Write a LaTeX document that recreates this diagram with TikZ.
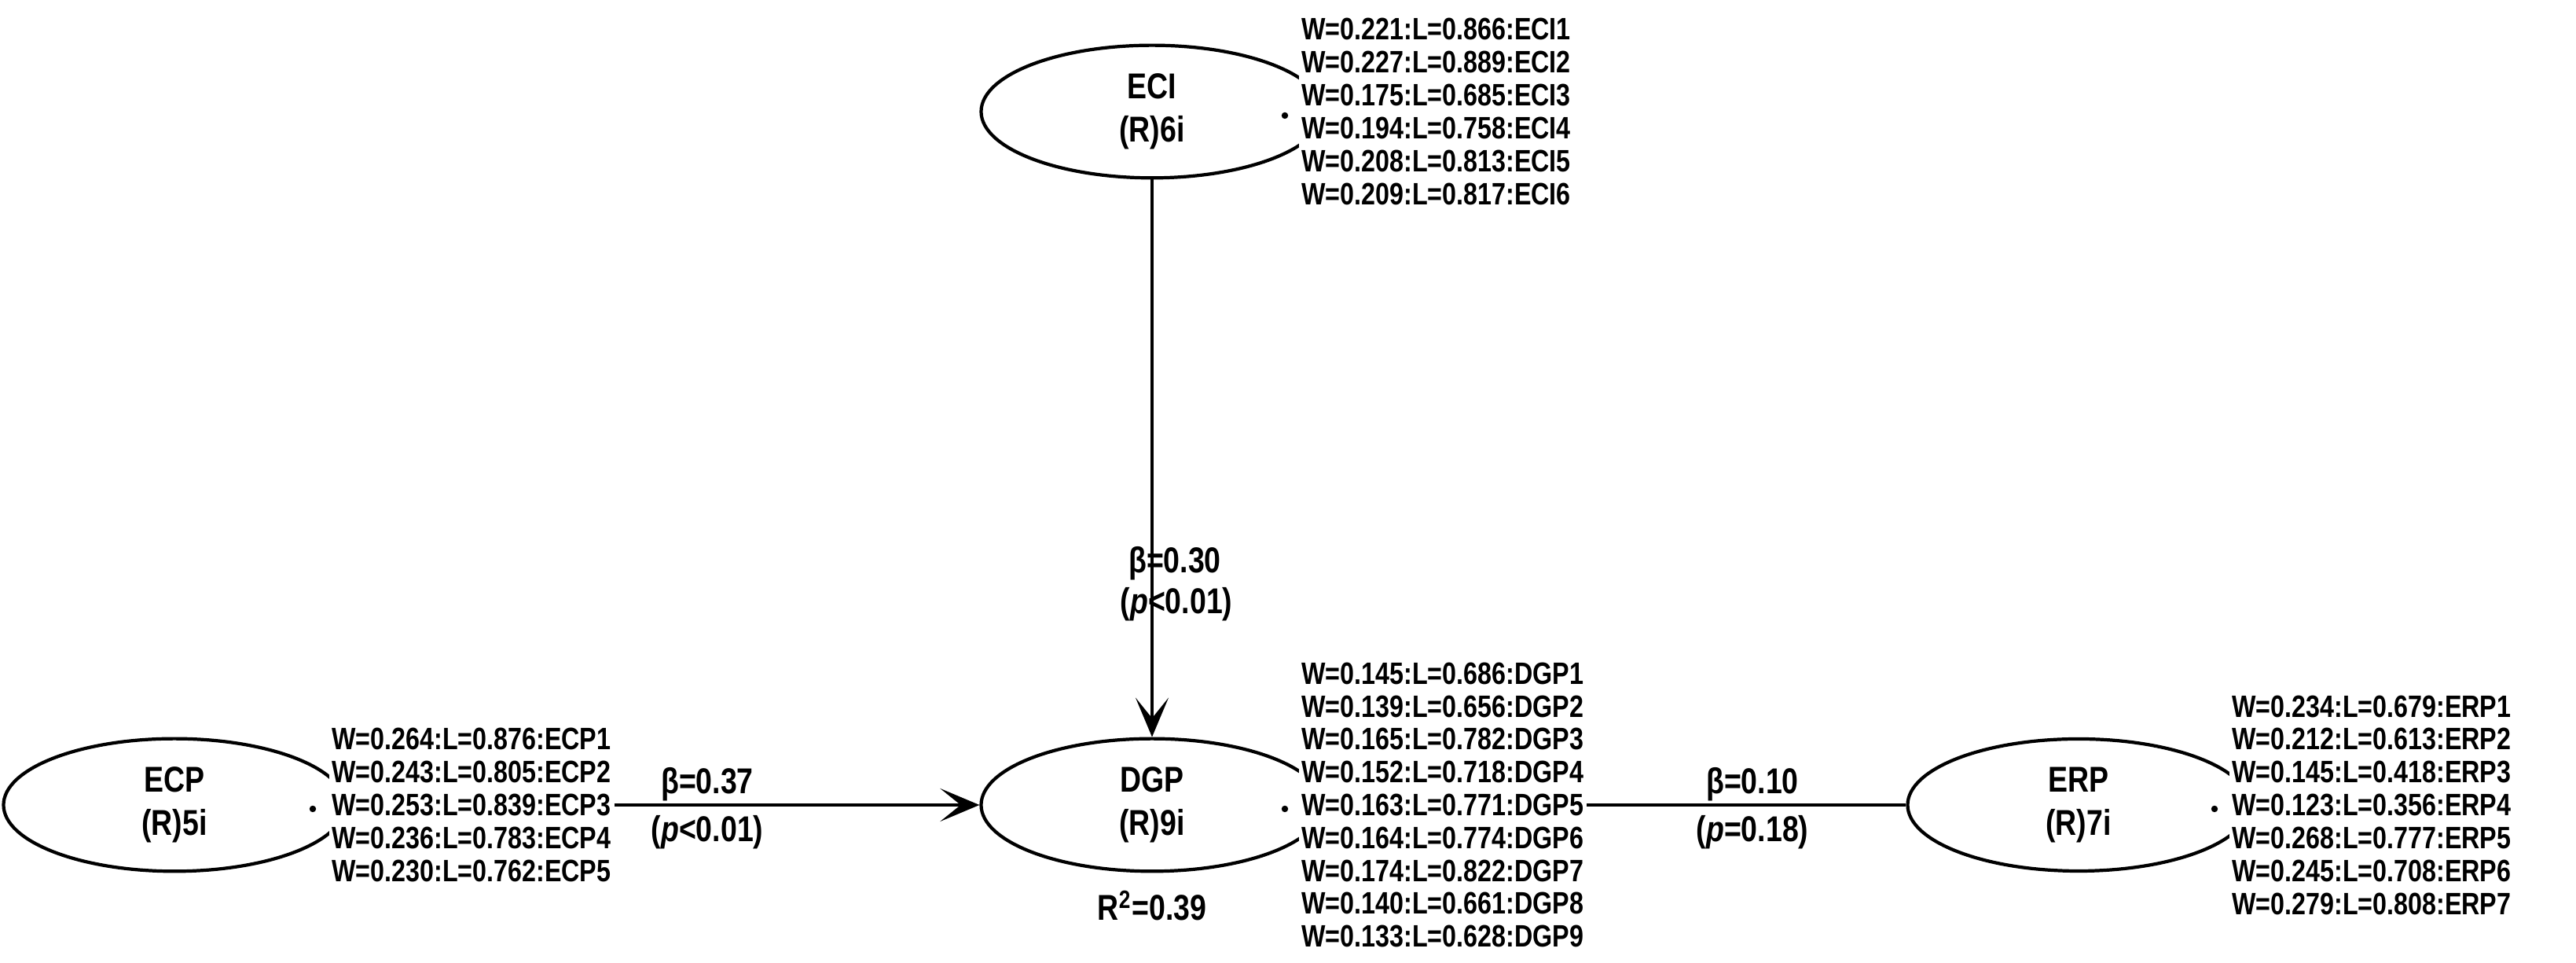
\documentclass[tikz,border=0pt]{standalone}
\usepackage{fontspec}
\setmainfont{Liberation Sans}[FakeStretch=0.82]
\usetikzlibrary{shapes.geometric}
\usetikzlibrary{positioning}
\usetikzlibrary{arrows.meta}

\begin{document}
\begin{tikzpicture}[
    latent/.style={ellipse, draw=black, line width=1.2pt, minimum width=4.35cm, minimum height=1.68cm,
        align=center, font=\bfseries\fontsize{13}{15.5}\selectfont},
    weights/.style={anchor=west, fill=white, inner sep=1pt, align=left,
        font=\bfseries\fontsize{11.2}{11.9}\selectfont},
    path/.style={line width=1.2pt},
    coef/.style={font=\bfseries\fontsize{13}{15}\selectfont, align=center},
    tip/.style={-{Stealth[length=5mm, width=4.2mm, inset=2.6mm]}}
]
    \useasboundingbox (0,0) rectangle (32.78,12.25);
    % Constructs
    \node at (14.66, 10.83) [latent](eci){ECI\\(R)6i};
    \node at (14.66, 2.01) [latent](dgp){DGP\\(R)9i};
    \node at (2.22, 2.01) [latent](ecp){ECP\\(R)5i};
    \node at (26.45, 2.01) [latent](erp){ERP\\(R)7i};
    % -- small dots inside the ellipses
    \fill (16.35, 10.78) circle (1.2pt);
    \fill (16.35, 1.96) circle (1.2pt);
    \fill (3.98, 1.96) circle (1.2pt);
    \fill (28.18, 1.96) circle (1.2pt);
    % Outer weights and loadings
    \node at (16.52, 10.83) [weights](eciInd){W=0.221:L=0.866:ECI1\\W=0.227:L=0.889:ECI2\\W=0.175:L=0.685:ECI3\\W=0.194:L=0.758:ECI4\\W=0.208:L=0.813:ECI5\\W=0.209:L=0.817:ECI6};
    \node at (16.52, 2.01) [weights](dgpInd){W=0.145:L=0.686:DGP1\\W=0.139:L=0.656:DGP2\\W=0.165:L=0.782:DGP3\\W=0.152:L=0.718:DGP4\\W=0.163:L=0.771:DGP5\\W=0.164:L=0.774:DGP6\\W=0.174:L=0.822:DGP7\\W=0.140:L=0.661:DGP8\\W=0.133:L=0.628:DGP9};
    \node at (4.18, 2.01) [weights](ecpInd){W=0.264:L=0.876:ECP1\\W=0.243:L=0.805:ECP2\\W=0.253:L=0.839:ECP3\\W=0.236:L=0.783:ECP4\\W=0.230:L=0.762:ECP5};
    \node at (28.36, 2.01) [weights](erpInd){W=0.234:L=0.679:ERP1\\W=0.212:L=0.613:ERP2\\W=0.145:L=0.418:ERP3\\W=0.123:L=0.356:ERP4\\W=0.268:L=0.777:ERP5\\W=0.245:L=0.708:ERP6\\W=0.279:L=0.808:ERP7};
    \node [coef, below=0.1cm of dgp](rsq){R\textsuperscript{2}=0.39};
    % Structural paths
    \draw [path, tip] (eci.south) -- (dgp.north);
    \draw [path, tip] (ecpInd.east) -- (dgp.west);
    \draw [path] (dgpInd.east) -- (erp.west);
    % -- Path coefficients
    \node at (14.95, 5.08) [coef](b1){β=0.30};
    \node at (14.97, 4.56) [coef](p1){(\textit{p}<0.01)};
    \node at (9.0, 2.27) [coef](b2){β=0.37};
    \node at (9.0, 1.66) [coef](p2){(\textit{p}<0.01)};
    \node at (22.3, 2.27) [coef](b3){β=0.10};
    \node at (22.3, 1.66) [coef](p3){(\textit{p}=0.18)};
\end{tikzpicture}
\end{document}
